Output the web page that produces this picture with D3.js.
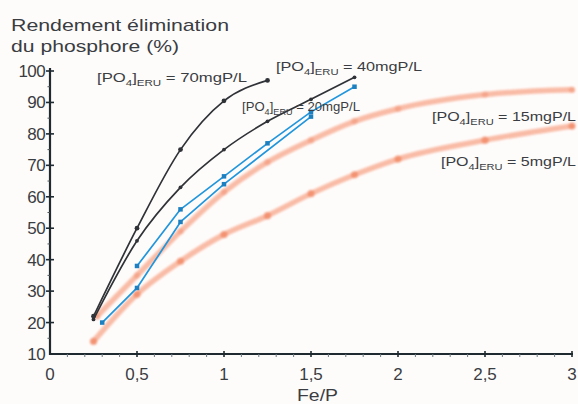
<!DOCTYPE html>
<html>
<head>
<meta charset="utf-8">
<script src="https://cdn.jsdelivr.net/npm/d3@7"></script>
<style>
  html, body { margin: 0; padding: 0; background: #fefcfb; }
  svg { display: block; }
  text { font-family: "Liberation Sans", Arial, sans-serif; fill: #3a3d42; }
</style>
</head>
<body>
<svg id="chart" width="578" height="404"></svg>
<script>
// Phosphorus removal yield (%) against the Fe/P molar ratio,
// for several phosphate concentrations in the raw wastewater.
const feP70 = [0.25, 0.5, 0.75, 1, 1.25];
const rend70 = [22, 50, 75, 90.5, 97];

const feP40 = [0.25, 0.5, 0.75, 1, 1.25, 1.5, 1.75];
const rend40 = [21, 46, 63, 75, 84, 91, 98];

const feP20a = [0.3, 0.5, 0.75, 1, 1.5];
const rend20a = [20, 31, 52, 64, 85.5];

const feP20b = [0.5, 0.75, 1, 1.25, 1.5, 1.75];
const rend20b = [38, 56, 66.5, 77, 87, 95];

const feP15 = [0.27, 0.5, 0.75, 1, 1.25, 1.5, 1.75, 2, 2.5, 3];
const rend15 = [22, 35, 49, 61.5, 71, 78, 84, 88, 92.5, 94];

const feP5 = [0.25, 0.5, 0.75, 1, 1.25, 1.5, 1.75, 2, 2.5, 3];
const rend5 = [14, 29, 39.5, 48, 54, 61, 67, 72, 78, 82.5];

const xTicks = [0, 0.5, 1, 1.5, 2, 2.5, 3];
const yTicks = [10, 20, 30, 40, 50, 60, 70, 80, 90, 100];
const xTickLabels = ["0", "0,5", "1", "1,5", "2", "2,5", "3"];

const curveLabels = [
  { conc: "70mgP/L", x: 97, y: 82, w: 150 },
  { conc: "40mgP/L", x: 276, y: 71, w: 146 },
  { conc: "20mgP/L", x: 242, y: 111, w: 118 },
  { conc: "15mgP/L", x: 432, y: 121, w: 144 },
  { conc: "5mgP/L",  x: 441, y: 166, w: 135 }
];

const svg = d3.select("#chart");

const x = d3.scaleLinear().domain([0, 3]).range([50, 572]);
const y = d3.scaleLinear().domain([10, 100]).range([354, 71]);

const defs = svg.append("defs");
defs.append("filter").attr("id", "soft")
  .attr("x", "-5%").attr("y", "-5%").attr("width", "110%").attr("height", "110%")
  .append("feGaussianBlur").attr("stdDeviation", 1.2);

const zip = (xs, ys) => xs.map((v, i) => [v, ys[i]]);

function drawSeries(xs, ys, opts) {
  const pts = zip(xs, ys);
  const line = d3.line()
    .x(d => x(d[0])).y(d => y(d[1]))
    .curve(opts.curve || d3.curveLinear);
  const g = svg.append("g");
  if (opts.filter) g.attr("filter", opts.filter);
  g.append("path")
    .attr("d", line(pts))
    .attr("fill", "none")
    .attr("stroke", opts.color)
    .attr("stroke-width", opts.width)
    .attr("stroke-opacity", opts.opacity || 1)
    .attr("stroke-linecap", "round")
    .attr("stroke-linejoin", "round");
  if (opts.marker === "square") {
    g.selectAll("rect").data(pts).join("rect")
      .attr("x", d => x(d[0]) - opts.size / 2)
      .attr("y", d => y(d[1]) - opts.size / 2)
      .attr("width", opts.size).attr("height", opts.size)
      .attr("fill", opts.markerColor || opts.color);
  } else {
    g.selectAll("circle").data(pts).join("circle")
      .attr("cx", d => x(d[0])).attr("cy", d => y(d[1]))
      .attr("r", opts.size)
      .attr("fill", opts.markerColor || opts.color)
      .attr("fill-opacity", opts.markerOpacity || 1);
  }
}

// Low-concentration curves: wide, soft salmon bands
drawSeries(feP5, rend5, { color: "#f7ab90", width: 5.5, opacity: 0.8,
  curve: d3.curveMonotoneX, size: 3.6, markerColor: "#f08460", markerOpacity: 0.75, filter: "url(#soft)" });
drawSeries(feP15, rend15, { color: "#f7ab90", width: 5.5, opacity: 0.8,
  curve: d3.curveMonotoneX, size: 3.2, markerColor: "#f29374", markerOpacity: 0.55, filter: "url(#soft)" });

// 20 mgP/L replicates
drawSeries(feP20a, rend20a, { color: "#2196dc", width: 1.7, marker: "square", size: 4.5, markerColor: "#1c7fc0" });
drawSeries(feP20b, rend20b, { color: "#2196dc", width: 1.7, marker: "square", size: 4.5, markerColor: "#1c7fc0" });

// High-concentration curves
drawSeries(feP40, rend40, { color: "#2f3236", width: 1.7, curve: d3.curveMonotoneX, size: 1.9 });
drawSeries(feP70, rend70, { color: "#2f3236", width: 1.7, curve: d3.curveMonotoneX, size: 2.4 });

// Axes
const axisColor = "#1e2a30";
const xAxis = svg.append("g");
xAxis.append("line")
  .attr("x1", x(0)).attr("x2", x(3) + 1).attr("y1", y(10)).attr("y2", y(10))
  .attr("stroke", axisColor).attr("stroke-width", 2.2);
xAxis.selectAll("line.minor").data(d3.range(1, 30).map(i => i / 10).filter(v => Math.abs(v * 2 - Math.round(v * 2)) > 1e-6))
  .join("line").attr("class", "minor")
  .attr("x1", d => x(d)).attr("x2", d => x(d))
  .attr("y1", y(10)).attr("y2", y(10) + 3)
  .attr("stroke", "#6d7a80").attr("stroke-width", 1);
xAxis.selectAll("line.major").data(xTicks.slice(1))
  .join("line").attr("class", "major")
  .attr("x1", d => x(d)).attr("x2", d => x(d))
  .attr("y1", y(10) - 3).attr("y2", y(10) + 3)
  .attr("stroke", axisColor).attr("stroke-width", 1.6);
xAxis.selectAll("text").data(xTicks)
  .join("text")
  .attr("x", d => x(d)).attr("y", 380)
  .attr("text-anchor", "middle")
  .attr("font-size", 17)
  .text((d, i) => xTickLabels[i]);

const yAxis = svg.append("g");
yAxis.append("line")
  .attr("x1", x(0)).attr("x2", x(0)).attr("y1", y(10) + 1).attr("y2", 68)
  .attr("stroke", axisColor).attr("stroke-width", 2.2);
yAxis.selectAll("line.minor").data(d3.range(15, 100, 10))
  .join("line").attr("class", "minor")
  .attr("x1", x(0) - 2.5).attr("x2", x(0))
  .attr("y1", d => y(d)).attr("y2", d => y(d))
  .attr("stroke", "#4a565c").attr("stroke-width", 1);
yAxis.selectAll("line.major").data(yTicks.slice(1))
  .join("line").attr("class", "major")
  .attr("x1", x(0) - 4).attr("x2", x(0) + 4)
  .attr("y1", d => y(d)).attr("y2", d => y(d))
  .attr("stroke", axisColor).attr("stroke-width", 1.6);
yAxis.selectAll("text").data(yTicks)
  .join("text")
  .attr("x", 45).attr("y", d => y(d) + 6)
  .attr("text-anchor", "end")
  .attr("font-size", 17)
  .attr("letter-spacing", -0.6)
  .text(d => d);

// Axis titles
svg.append("text").attr("x", 11).attr("y", 31).attr("font-size", 17)
  .attr("textLength", 218).attr("lengthAdjust", "spacingAndGlyphs")
  .text("Rendement élimination");
svg.append("text").attr("x", 11).attr("y", 52).attr("font-size", 17)
  .attr("textLength", 168).attr("lengthAdjust", "spacingAndGlyphs")
  .text("du phosphore (%)");
svg.append("text").attr("x", 297).attr("y", 401).attr("font-size", 17)
  .attr("textLength", 41).attr("lengthAdjust", "spacingAndGlyphs")
  .text("Fe/P");

// Curve labels: [PO4]ERU = c
curveLabels.forEach(l => {
  const t = svg.append("text")
    .attr("x", l.x).attr("y", l.y)
    .attr("font-size", 13)
    .attr("textLength", l.w).attr("lengthAdjust", "spacingAndGlyphs");
  t.append("tspan").text("[PO");
  t.append("tspan").attr("dy", 4).attr("font-size", 9).text("4");
  t.append("tspan").attr("dy", -4).text("]");
  t.append("tspan").attr("dy", 4).attr("font-size", 9).text("ERU");
  t.append("tspan").attr("dy", -4).text(" = " + l.conc);
});
</script>
</body>
</html>
